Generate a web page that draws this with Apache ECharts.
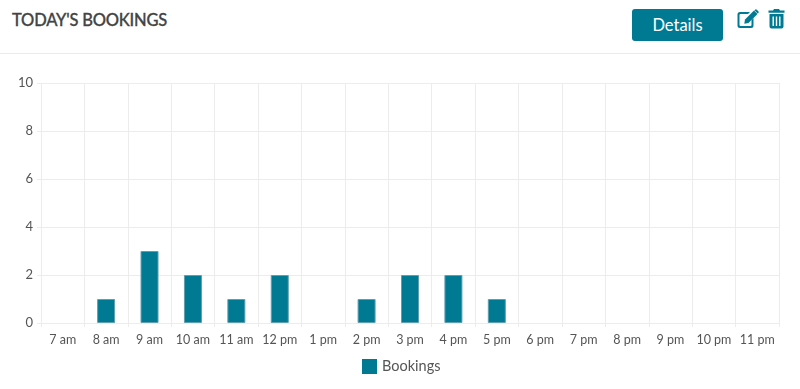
<!DOCTYPE html>
<html>
<head>
<meta charset="utf-8">
<title>Today's Bookings</title>
<script src="https://cdn.jsdelivr.net/npm/echarts@6/dist/echarts.min.js"></script>
<style>
  html, body { margin: 0; padding: 0; background: #fff; font-family: Lato, sans-serif; }
  #page { position: relative; width: 800px; height: 389px; overflow: hidden; }
  #header { position: absolute; left: 0; top: 0; width: 800px; height: 53px; border-bottom: 1px solid #eaeaea; }
  #title { position: absolute; left: 12px; top: 10px; font-size: 16.5px; line-height: 20px; font-weight: 500; color: #444; -webkit-text-stroke: 0.3px #444; letter-spacing: -0.2px; }
  #details { position: absolute; left: 632px; top: 9px; width: 91px; height: 32px; line-height: 32px; text-align: center;
    background: #007a93; color: #fff; font-size: 16.5px; border-radius: 3px; }
  .icon { position: absolute; fill: #007a93; }
  #chart { position: absolute; left: 0; top: 54px; width: 800px; height: 335px; }
</style>
</head>
<body>
<div id="page">
  <div id="header">
    <div id="title">TODAY'S BOOKINGS</div>
    <div id="details">Details</div>
    <svg class="icon" style="left:737px;top:9px" width="22" height="20" viewBox="0 0 22 20">
      <path d="M3 3h10l-2 2H3.500a1 1 0 0 0-1 1v10a1 1 0 0 0 1 1h10a1 1 0 0 0 1-1v-5l2-2v7.500a2.500 2.500 0 0 1-2.500 2.500H3a2.500 2.500 0 0 1-2.500-2.500V5.500A2.500 2.500 0 0 1 3 3z"/>
      <path d="M17 1.500l3.500 3.500-9 9-4.200.7.700-4.200z"/>
      <path d="M18 .7a1.300 1.300 0 0 1 1.800 0l1.500 1.500a1.300 1.300 0 0 1 0 1.800l-.6.600-3.300-3.300z"/>
    </svg>
    <svg class="icon" style="left:768px;top:9px" width="17" height="20" viewBox="0 0 17 20">
      <path d="M6 0h5l1 1.500h4.500v2.200H.5V1.500H5z"/>
      <path fill-rule="evenodd" d="M1.500 5h14v12.500a2 2 0 0 1-2 2h-10a2 2 0 0 1-2-2zM4.500 7.500v9.500h1.400V7.500zM7.800 7.500v9.500h1.400V7.500zM11.100 7.500v9.500h1.400V7.500z"/>
    </svg>
  </div>
  <div id="chart"></div>
</div>
<script>
const hours = ['7 am', '8 am', '9 am', '10 am', '11 am', '12 pm', '1 pm', '2 pm', '3 pm', '4 pm', '5 pm', '6 pm', '7 pm', '8 pm', '9 pm', '10 pm', '11 pm'];
const bookings = [0, 1, 3, 2, 1, 2, 0, 1, 2, 2, 1, 0, 0, 0, 0, 0, 0];
const seriesName = 'Bookings';
const yMax = 10;
const yStep = 2;

const gridColor = '#ececec';
const textColor = '#555';
const barColor = '#007a93';

const chart = echarts.init(document.getElementById('chart'));

chart.setOption({
  animation: false,
  textStyle: { fontFamily: 'Lato' },
  legend: {
    data: [{ name: seriesName, icon: 'rect', itemStyle: { borderWidth: 0 } }],
    bottom: 10,
    left: 357,
    itemWidth: 15,
    itemHeight: 15,
    itemGap: 7,
    textStyle: { color: textColor, fontSize: 14.5, fontFamily: 'Lato' },
  },
  grid: { left: 41, right: 21, top: 29, bottom: 66 },
  xAxis: {
    type: 'category',
    data: hours,
    axisLine: { lineStyle: { color: gridColor } },
    axisTick: { show: true, length: 4, lineStyle: { color: gridColor } },
    axisLabel: { color: textColor, fontSize: 12.5, interval: 0, margin: 10 },
    splitLine: { show: true, lineStyle: { color: gridColor } },
  },
  yAxis: {
    type: 'value',
    min: 0,
    max: yMax,
    interval: yStep,
    axisLine: { show: false },
    axisTick: { show: true, length: 4, lineStyle: { color: gridColor } },
    axisLabel: { color: textColor, fontSize: 13, margin: 8 },
    splitLine: { lineStyle: { color: gridColor } },
  },
  series: [
    {
      name: seriesName,
      type: 'bar',
      // empty hours have no bar at all in the original, not even a border sliver
      data: bookings.map((v) => (v === 0 ? null : v)),
      barWidth: 18,
      itemStyle: { color: barColor, borderColor: '#5f9fb0', borderWidth: 1 },
    },
  ],
});
</script>
</body>
</html>
